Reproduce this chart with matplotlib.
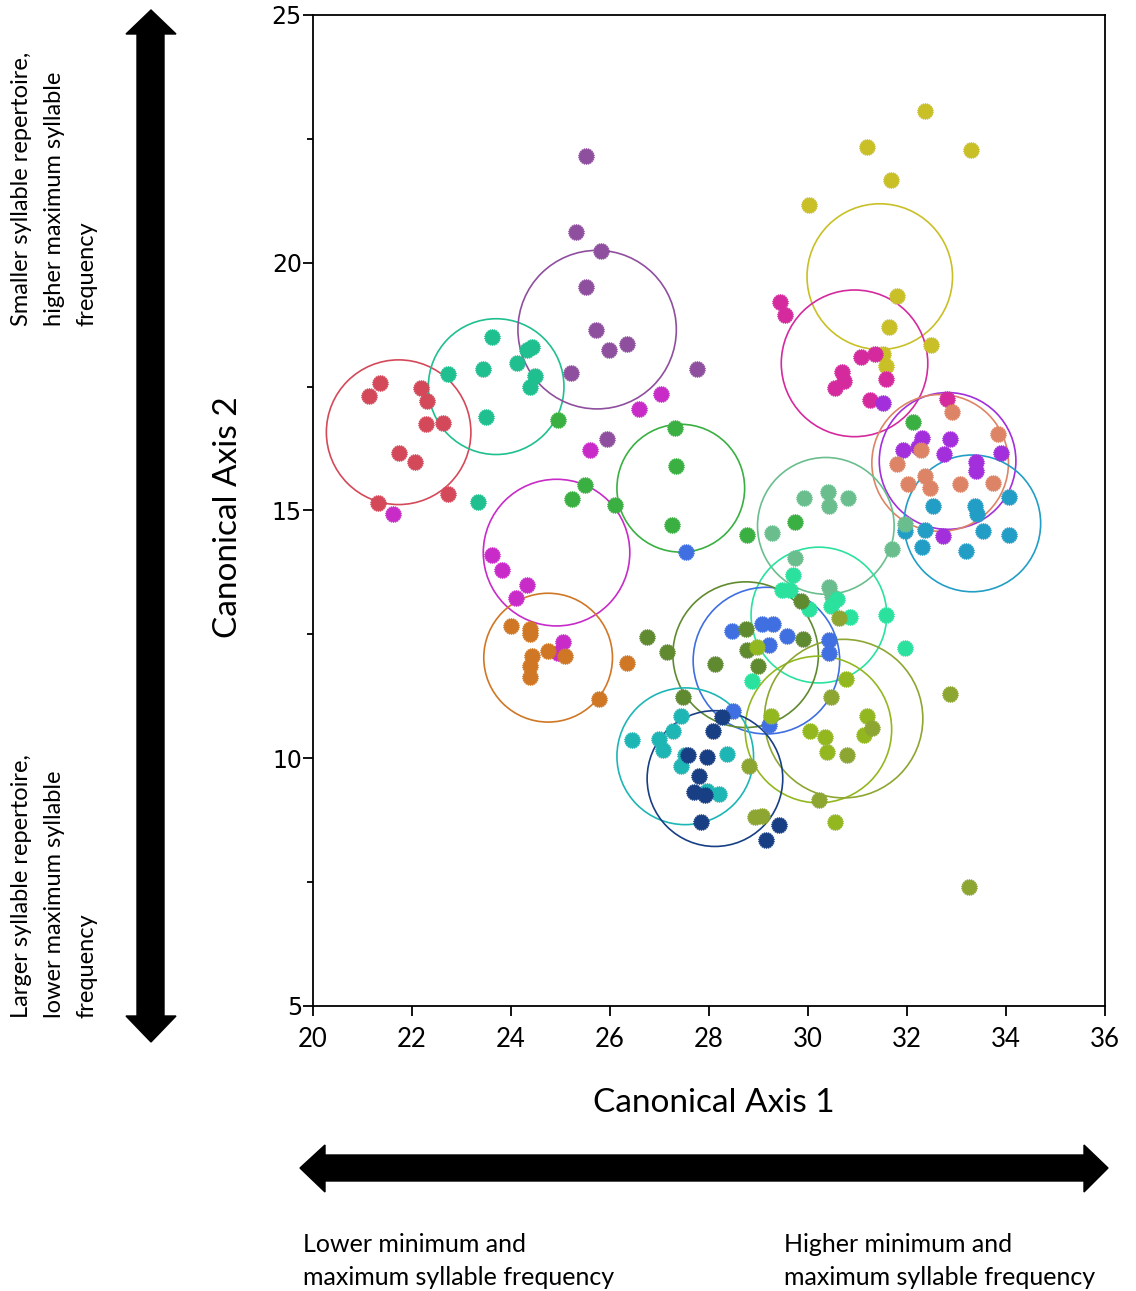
import matplotlib
matplotlib.use("Agg")
import matplotlib.pyplot as plt
from matplotlib.patches import Circle, Polygon
from matplotlib.path import Path
import numpy as np

# ---------------- data ----------------
group_colors = ["#d4495a", "#1fbf8f", "#8f4f9f", "#c82bc8", "#d07725",
                "#39b041", "#c8c026", "#d42a9e", "#a22fdb", "#dd8466",
                "#229ec6", "#6abe8d", "#2ae29e", "#3f6fe0", "#608a30",
                "#93b81f", "#8da631", "#1eb6b5", "#183f84"]

group_x = [
    [21.13, 21.35, 22.18, 22.30, 22.28, 22.63, 21.74, 22.06, 21.31, 22.73],
    [23.62, 23.43, 22.73, 24.12, 24.32, 24.42, 24.48, 24.38, 23.49, 23.33],
    [25.52, 25.31, 25.82, 25.52, 25.72, 26.34, 25.98, 25.21, 27.76, 25.94],
    [27.03, 26.59, 25.60, 21.62, 23.62, 23.82, 24.32, 24.10, 25.05, 24.95],
    [24.00, 24.38, 24.38, 24.75, 25.09, 24.42, 24.38, 24.38, 26.34, 25.78],
    [24.95, 27.31, 27.33, 25.49, 25.23, 26.10, 27.25, 28.77, 29.74, 32.12],
    [32.36, 31.19, 33.29, 31.68, 30.02, 31.80, 31.64, 32.48, 31.52, 31.58],
    [29.43, 29.54, 31.07, 31.35, 30.69, 30.73, 30.55, 31.58, 31.25, 32.81],
    [31.52, 32.30, 31.92, 32.22, 32.87, 32.75, 33.90, 33.39, 33.39, 32.73],
    [32.91, 33.84, 32.28, 31.80, 32.36, 32.02, 32.46, 33.07, 33.74],
    [34.06, 32.53, 33.37, 33.41, 31.96, 32.36, 33.54, 34.06, 32.30, 33.19],
    [29.92, 30.40, 30.42, 30.81, 29.27, 31.70, 29.74, 30.42, 31.96, 30.48],
    [29.70, 29.47, 29.64, 30.02, 30.46, 30.59, 30.85, 31.58, 31.96, 28.87],
    [28.46, 29.07, 29.29, 29.58, 29.21, 30.42, 30.42, 28.48, 29.21, 27.54],
    [26.75, 27.15, 28.75, 29.90, 28.77, 28.99, 28.12, 29.86, 27.47],
    [30.77, 29.25, 30.04, 30.34, 31.19, 31.13, 30.38, 30.55, 28.97],
    [30.46, 31.29, 30.79, 28.81, 30.22, 28.93, 29.07, 30.63, 32.87, 33.25],
    [27.43, 27.27, 26.44, 26.99, 27.07, 27.52, 27.43, 28.36, 28.20, 27.96],
    [27.58, 28.26, 28.08, 27.96, 27.80, 27.70, 27.92, 27.84, 29.41, 29.15],
]

group_y = [
    [17.31, 17.57, 17.47, 17.21, 16.74, 16.76, 16.16, 15.98, 15.15, 15.33],
    [18.51, 17.85, 17.75, 17.97, 18.23, 18.29, 17.71, 17.49, 16.88, 15.17],
    [22.16, 20.63, 20.23, 19.52, 18.64, 18.37, 18.23, 17.77, 17.85, 16.44],
    [17.35, 17.04, 16.22, 14.93, 14.10, 13.80, 13.50, 13.24, 12.35, 12.13],
    [12.67, 12.61, 12.51, 12.17, 12.07, 12.07, 11.87, 11.63, 11.93, 11.20],
    [16.82, 16.66, 15.90, 15.51, 15.23, 15.11, 14.71, 14.51, 14.77, 16.78],
    [23.07, 22.34, 22.28, 21.66, 21.17, 19.32, 18.70, 18.35, 18.15, 17.91],
    [19.20, 18.94, 18.09, 18.15, 17.79, 17.61, 17.47, 17.65, 17.23, 17.25],
    [17.17, 16.46, 16.22, 16.28, 16.44, 16.14, 16.16, 15.98, 15.80, 14.49],
    [16.98, 16.54, 16.22, 15.94, 15.69, 15.53, 15.45, 15.53, 15.55],
    [15.27, 15.09, 15.09, 14.93, 14.59, 14.61, 14.59, 14.51, 14.26, 14.18],
    [15.25, 15.37, 15.09, 15.25, 14.55, 14.22, 14.04, 13.46, 14.73, 13.28],
    [13.70, 13.40, 13.40, 13.02, 13.08, 13.22, 12.85, 12.89, 12.23, 11.55],
    [12.57, 12.71, 12.71, 12.47, 12.29, 12.39, 12.13, 10.96, 10.68, 14.16],
    [12.45, 12.15, 12.61, 12.41, 12.19, 11.87, 11.91, 13.18, 11.24],
    [11.59, 10.86, 10.54, 10.42, 10.86, 10.46, 10.12, 8.71, 12.25],
    [11.24, 10.62, 10.06, 9.85, 9.15, 8.81, 8.83, 12.83, 11.30, 7.40],
    [10.86, 10.54, 10.36, 10.38, 10.16, 10.06, 9.85, 10.08, 9.27, 9.33],
    [10.06, 10.84, 10.54, 10.02, 9.65, 9.31, 9.25, 8.71, 8.65, 8.36],
]

centre_x = [21.73, 23.70, 25.74, 24.92, 24.75, 27.43, 31.45, 30.94, 32.82, 32.67,
            33.32, 30.36, 30.22, 29.16, 28.74, 30.21, 30.72, 27.52, 28.12]
centre_y = [16.58, 17.50, 18.65, 14.15, 12.03, 15.45, 19.72, 17.97, 16.00, 15.96,
            14.74, 14.69, 12.89, 11.97, 12.09, 10.58, 10.80, 10.04, 9.59]
radius = [1.46, 1.37, 1.60, 1.48, 1.30, 1.29, 1.47, 1.48, 1.38, 1.38,
          1.38, 1.38, 1.37, 1.48, 1.47, 1.48, 1.60, 1.38, 1.37]

x_ticks = [20, 22, 24, 26, 28, 30, 32, 34, 36]
y_major = [5, 10, 15, 20, 25]
y_minor = [7.5, 12.5, 17.5, 22.5]

# ---------------- figure ----------------
W, H = 1136, 1291
fig = plt.figure(figsize=(W / 100, H / 100), dpi=100)
fig.patch.set_facecolor("white")

ax = fig.add_axes([313 / W, 1 - 1006 / H, (1105 - 313) / W, (1006 - 15) / H])
ax.set_xlim(20, 36)
ax.set_ylim(5, 25)

marker_path = Path.unit_regular_star(22, 0.86)

for i, col in enumerate(group_colors):
    ax.add_patch(Circle((centre_x[i], centre_y[i]), radius[i], fill=False,
                        ec=col, lw=1.2, zorder=2))
for i, col in enumerate(group_colors):
    ax.plot(group_x[i], group_y[i], ls="none", marker=marker_path,
            ms=12, mfc=col, mec=col, mew=0.3, zorder=3)

for s in ax.spines.values():
    s.set_linewidth(1.3)
    s.set_color("black")

ax.set_xticks(x_ticks)
ax.set_xticklabels([str(v) for v in x_ticks], family="Lato", fontsize=18.5)
ax.set_yticks(y_major)
ax.set_yticklabels([str(v) for v in y_major], family="DejaVu Sans", fontsize=17)
ax.set_yticks(y_minor, minor=True)
ax.tick_params(axis="x", direction="out", length=7, width=1.3, pad=8)
ax.tick_params(axis="y", which="major", direction="out", length=7, width=1.3, pad=1)
ax.tick_params(axis="y", which="minor", direction="out", length=4.5, width=1.3)

# ---------------- overlay (pixel coordinates) ----------------
ov = fig.add_axes([0, 0, 1, 1], zorder=-1)
ov.set_xlim(0, W)
ov.set_ylim(H, 0)
ov.axis("off")

vert_arrow = [(151, 10), (176, 34), (164, 34), (164, 1016), (176, 1016), (151, 1042),
              (126, 1016), (137, 1016), (137, 34), (126, 34)]
horiz_arrow = [(300, 1168), (325, 1145), (325, 1155), (1084, 1155), (1084, 1145),
               (1108, 1168), (1084, 1192), (1084, 1181), (325, 1181), (325, 1192)]
ov.add_patch(Polygon(vert_arrow, closed=True, fc="black", ec="black", lw=1))
ov.add_patch(Polygon(horiz_arrow, closed=True, fc="black", ec="black", lw=1))

ov.text(714, 1112, "Canonical Axis 1", family="Lato", fontsize=24,
        ha="center", va="baseline")
ov.text(237, 517, "Canonical Axis 2", family="Lato", fontsize=24, rotation=90,
        rotation_mode="anchor", ha="center", va="baseline")

top_lines = ["Smaller syllable repertoire,", "higher maximum syllable", "frequency"]
bot_lines = ["Larger syllable repertoire,", "lower maximum syllable", "frequency"]
for k, (t, b) in enumerate(zip(top_lines, bot_lines)):
    xb = 28 + 33 * k
    ov.text(xb, 326, t, family="Lato", fontsize=17, rotation=90,
            rotation_mode="anchor", ha="left", va="baseline")
    ov.text(xb, 1018, b, family="Lato", fontsize=17, rotation=90,
            rotation_mode="anchor", ha="left", va="baseline")

ov.text(303, 1252, "Lower minimum and", family="Lato", fontsize=18, va="baseline")
ov.text(303, 1285, "maximum syllable frequency", family="Lato", fontsize=18, va="baseline")
ov.text(784, 1252, "Higher minimum and", family="Lato", fontsize=18, va="baseline")
ov.text(784, 1285, "maximum syllable frequency", family="Lato", fontsize=18, va="baseline")

fig.savefig("out.png", dpi=100, facecolor="white")
